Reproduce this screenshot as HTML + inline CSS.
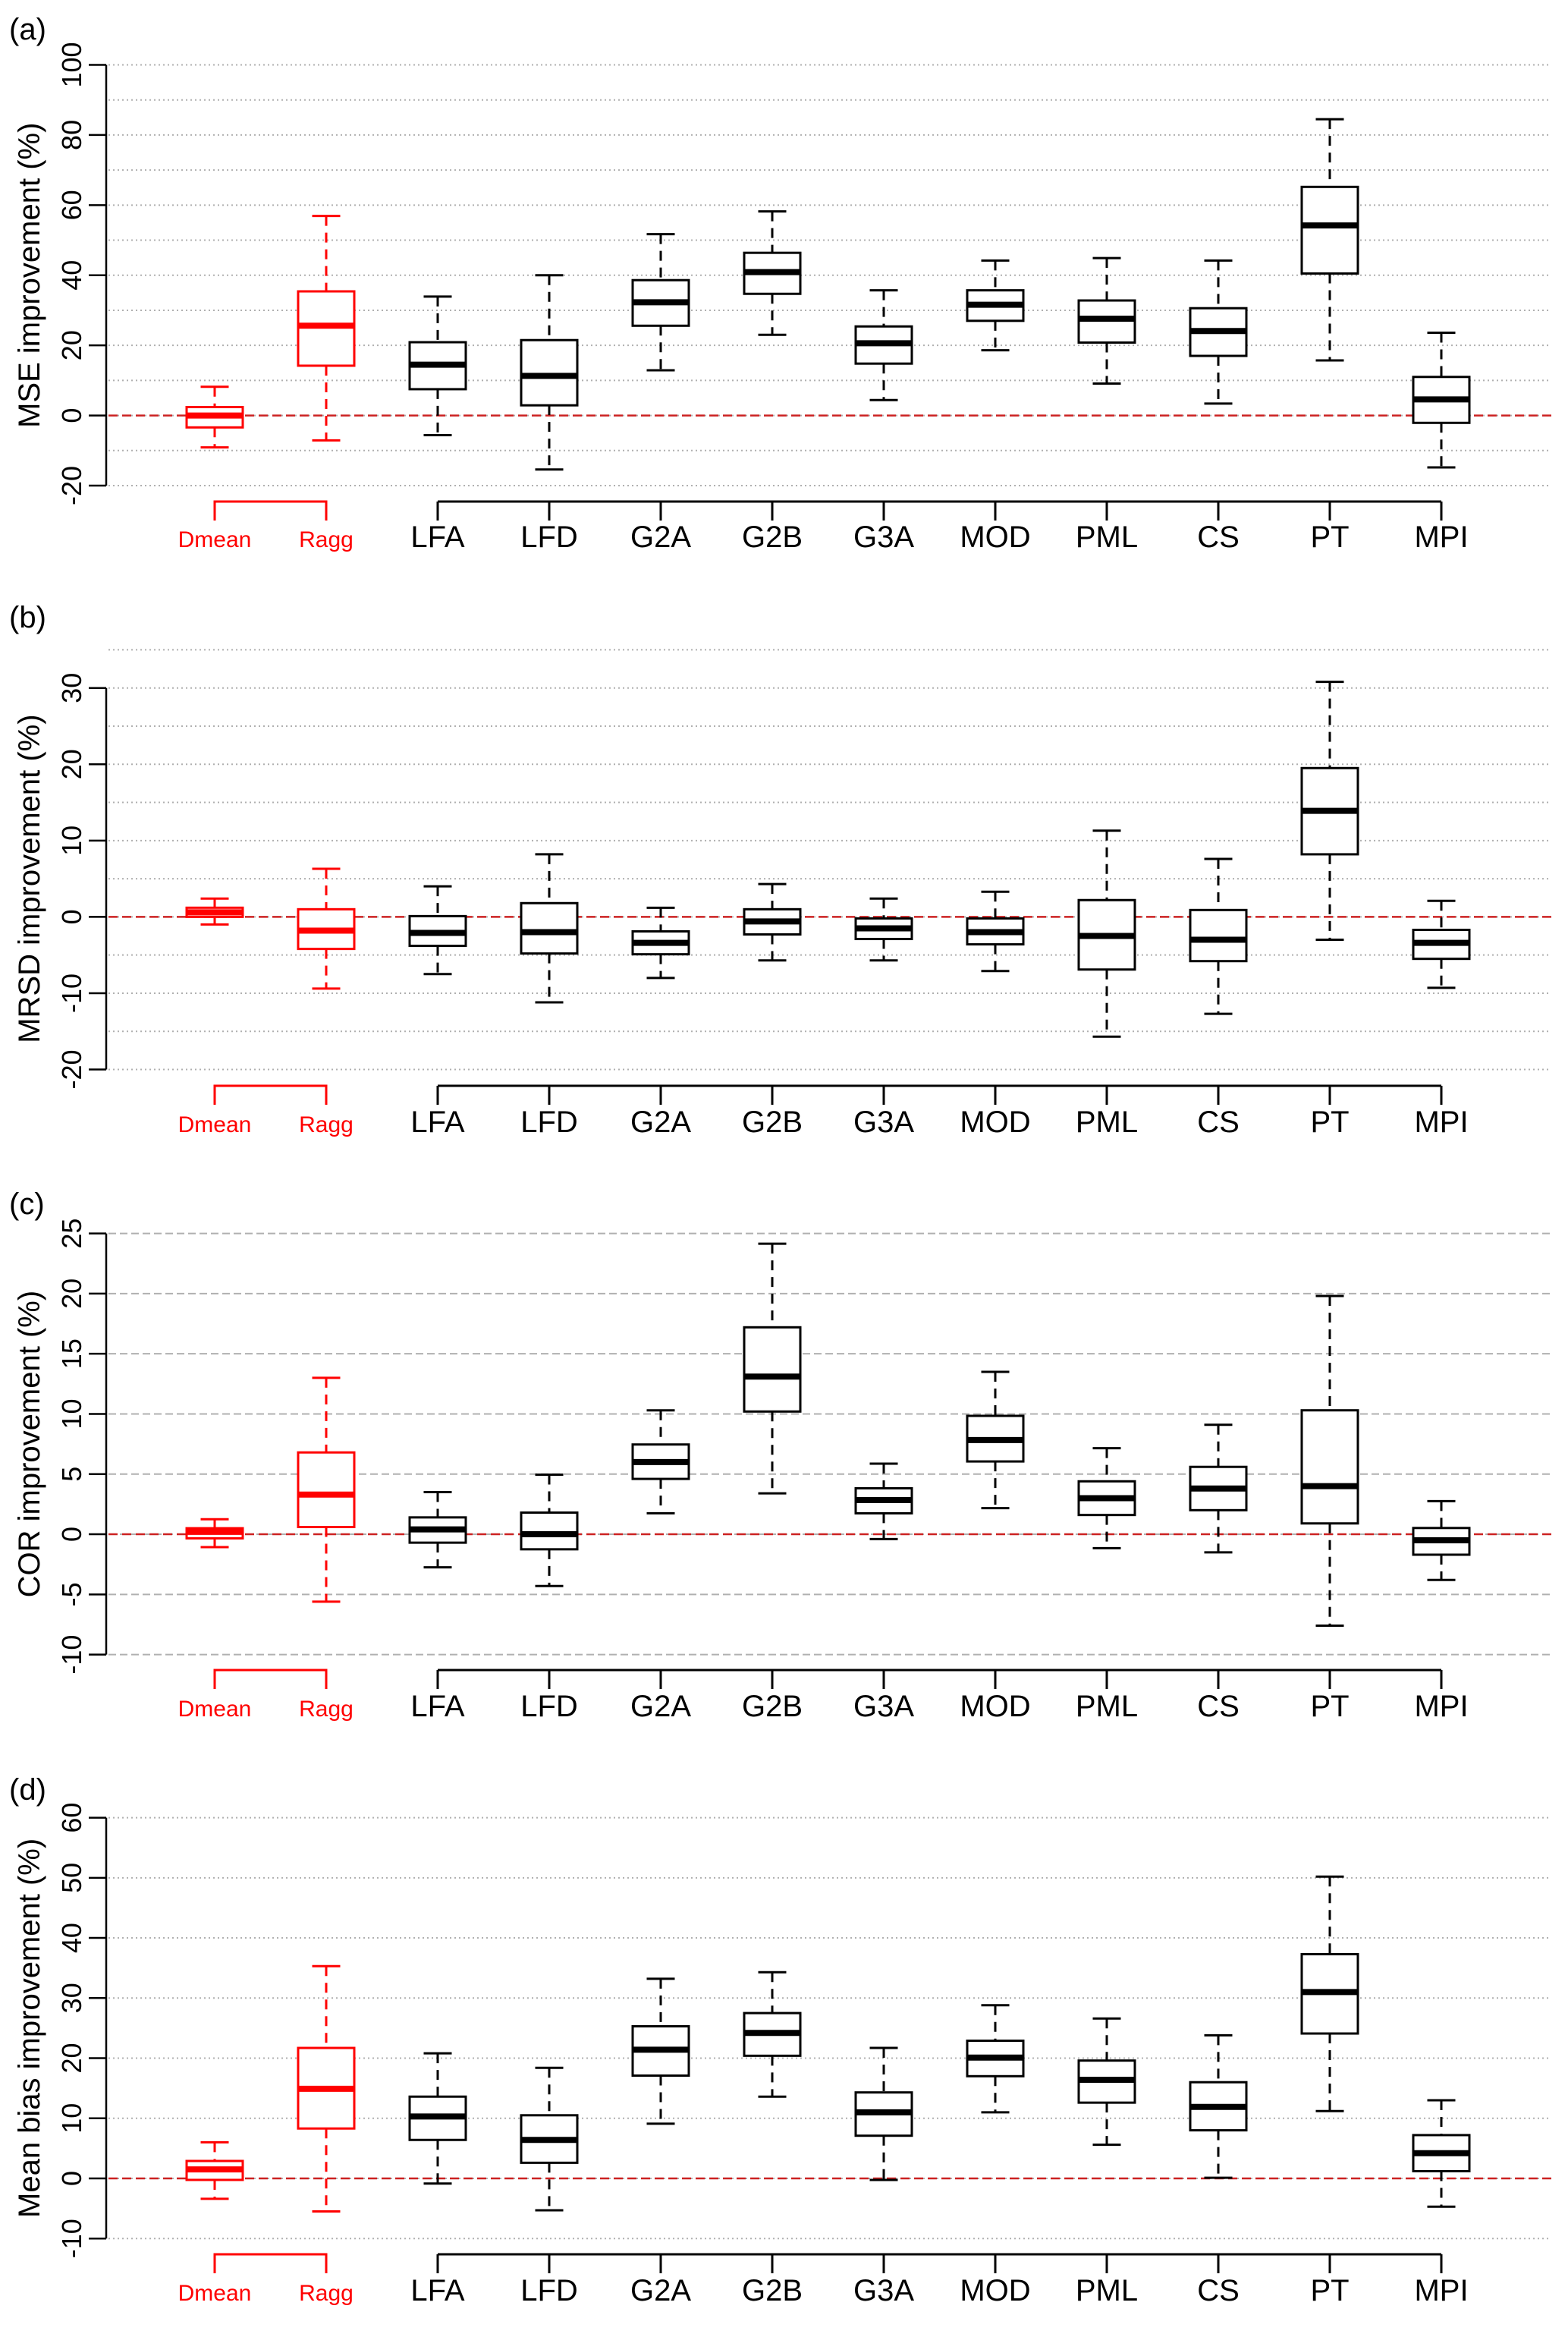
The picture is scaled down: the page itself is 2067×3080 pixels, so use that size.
<!DOCTYPE html>
<html><head><meta charset="utf-8"><style>
html,body{margin:0;padding:0;background:#fff;}
svg{display:block;font-family:"Liberation Sans",Arial,sans-serif;}
</style></head><body>
<svg id="fig" width="2067" height="3080" viewBox="0 0 2067 3080" xmlns="http://www.w3.org/2000/svg"></svg>
<script>
const categories = ["Dmean","Ragg","LFA","LFD","G2A","G2B","G3A","MOD","PML","CS","PT","MPI"];
// Panel (a) MSE
const mseMin = [-9.1,-7.1,-5.6,-15.4,12.9,23,4.4,18.6,9.1,3.4,15.7,-14.8];
const mseQ1  = [-3.4,14.2,7.5,2.9,25.6,34.7,14.8,27,20.8,17,40.5,-2.1];
const mseMed = [0,25.6,14.5,11.3,32.3,40.9,20.6,31.6,27.6,24.1,54.2,4.6];
const mseQ3  = [2.4,35.4,20.9,21.5,38.6,46.4,25.4,35.7,32.8,30.6,65.2,11];
const mseMax = [8.2,56.9,33.9,40,51.7,58.2,35.7,44.2,44.9,44.2,84.5,23.6];
// Panel (b) MRSD
const mrsdMin = [-1.0,-9.4,-7.5,-11.2,-8.0,-5.7,-5.7,-7.1,-15.7,-12.7,-3.0,-9.3];
const mrsdQ1  = [0,-4.2,-3.8,-4.8,-4.9,-2.3,-2.9,-3.6,-6.9,-5.8,8.2,-5.5];
const mrsdMed = [0.6,-1.8,-2.1,-2.0,-3.4,-0.6,-1.5,-2.0,-2.5,-3.0,13.9,-3.4];
const mrsdQ3  = [1.2,1.0,0.1,1.8,-1.9,1.0,-0.2,-0.2,2.2,0.9,19.5,-1.7];
const mrsdMax = [2.4,6.3,4.0,8.2,1.2,4.3,2.4,3.3,11.3,7.6,30.8,2.1];
// Panel (c) COR
const corMin = [-1.07,-5.6,-2.75,-4.3,1.74,3.4,-0.4,2.17,-1.16,-1.5,-7.6,-3.8];
const corQ1  = [-0.34,0.6,-0.7,-1.25,4.6,10.2,1.74,6.05,1.6,2.0,0.9,-1.7];
const corMed = [0.2,3.3,0.4,0,6.0,13.1,2.84,7.83,3.0,3.8,4.0,-0.5];
const corQ3  = [0.5,6.8,1.4,1.8,7.46,17.2,3.82,9.84,4.4,5.6,10.3,0.52];
const corMax = [1.25,13.0,3.5,4.95,10.3,24.15,5.87,13.5,7.15,9.1,19.8,2.75];
// Panel (d) Mean bias
const biasMin = [-3.4,-5.5,-0.86,-5.3,9.1,13.6,-0.25,11.0,5.6,0.1,11.2,-4.7];
const biasQ1  = [-0.25,8.3,6.4,2.6,17.1,20.4,7.1,17.0,12.6,8.0,24.1,1.2];
const biasMed = [1.5,14.9,10.3,6.4,21.4,24.2,11.0,20.1,16.4,11.9,31.0,4.2];
const biasQ3  = [2.9,21.7,13.6,10.5,25.3,27.5,14.3,22.9,19.6,16.0,37.3,7.2];
const biasMax = [6.0,35.3,20.8,18.4,33.2,34.3,21.7,28.8,26.6,23.8,50.2,13.0];
const mseTicks = [-20,0,20,40,60,80,100];
const mrsdTicks = [-20,-10,0,10,20,30];
const corTicks = [-10,-5,0,5,10,15,20,25];
const biasTicks = [-10,0,10,20,30,40,50,60];

const NS="http://www.w3.org/2000/svg";
const svg=document.getElementById('fig');
function el(tag,attrs,parent){const e=document.createElementNS(NS,tag);for(const k in attrs)e.setAttribute(k,attrs[k]);(parent||svg).appendChild(e);return e;}
function xPos(i){return 283+i*147.0;}

const panels=[
 {id:'a',title:'MSE improvement (%)',min:mseMin,q1:mseQ1,med:mseMed,q3:mseQ3,max:mseMax,ticks:mseTicks,v0:100,y0:85.5,v1:-20,y1:640,gridFrom:-20,gridTo:100,gridStep:10,dashed:false,brY:661,labY:721,pLab:52},
 {id:'b',title:'MRSD improvement (%)',min:mrsdMin,q1:mrsdQ1,med:mrsdMed,q3:mrsdQ3,max:mrsdMax,ticks:mrsdTicks,v0:30,y0:906.7,v1:-20,y1:1409.5,gridFrom:-20,gridTo:35,gridStep:5,dashed:false,brY:1431,labY:1492,pLab:827},
 {id:'c',title:'COR improvement (%)',min:corMin,q1:corQ1,med:corMed,q3:corQ3,max:corMax,ticks:corTicks,v0:25,y0:1625.6,v1:-10,y1:2180.6,gridFrom:-10,gridTo:25,gridStep:5,dashed:true,brY:2201,labY:2262,pLab:1600},
 {id:'d',title:'Mean bias improvement (%)',min:biasMin,q1:biasQ1,med:biasMed,q3:biasQ3,max:biasMax,ticks:biasTicks,v0:60,y0:2395.6,v1:-10,y1:2950.2,gridFrom:-10,gridTo:60,gridStep:10,dashed:false,brY:2971,labY:3032,pLab:2372}
];

panels.forEach(p=>{
  const g=el('g',{});
  
  
  const y=v=>p.y0+(v-p.v0)*(p.y1-p.y0)/(p.v1-p.v0);
  // grid
  for(let v=p.gridFrom;v<=p.gridTo+1e-9;v+=p.gridStep){
    const l=el('line',{x1:143,x2:2045,y1:y(v),y2:y(v),stroke:'#b0b0b0','stroke-width':2,'stroke-dasharray':p.dashed?'10,5':'2,4'},g);
    
    
  }
  // zero line
  const z=el('line',{x1:143,x2:2045,y1:y(0),y2:y(0),stroke:'#cc2222','stroke-width':2.5,'stroke-dasharray':'12,6'},g);
  
  
  // y axis
  const tmin=p.ticks[0],tmax=p.ticks[p.ticks.length-1];
  const ax=el('line',{x1:140,x2:140,y1:y(tmin),y2:y(tmax),stroke:'#000','stroke-width':2.5},g);
  
  
  p.ticks.forEach(t=>{
    const tk=el('line',{x1:117,x2:140,y1:y(t),y2:y(t),stroke:'#000','stroke-width':2.5},g);
    
    
    const tl=el('text',{x:107,y:y(t),'font-size':36,'text-anchor':'middle',transform:'rotate(-90 107 '+y(t)+')'},g);
    tl.textContent=String(t);
    
    
  });
  const cy=(y(tmin)+y(tmax))/2;
  const yt=el('text',{x:52,y:cy,'font-size':40,'text-anchor':'middle',transform:'rotate(-90 52 '+cy+')'},g);
  yt.textContent=p.title;
  
  
  const pl=el('text',{x:12,y:p.pLab,'font-size':40},g);
  pl.textContent='('+p.id+')';
  
  
  // brackets
  const rb=el('path',{d:`M${xPos(0)} ${p.brY+25} V${p.brY} H${xPos(1)} V${p.brY+25}`,fill:'none',stroke:'#ff0000','stroke-width':3},g);
  
  
  let d=`M${xPos(2)} ${p.brY} H${xPos(11)}`;
  for(let i=2;i<12;i++) d+=` M${xPos(i)} ${p.brY} V${p.brY+25}`;
  const bb=el('path',{d:d,fill:'none',stroke:'#000','stroke-width':3},g);
  
  
  // boxes
  categories.forEach((c,i)=>{
    const col=i<2?'#ff0000':'#000';
    const x=xPos(i);
    const bg=el('g',{},g);
    
    
    el('line',{x1:x,x2:x,y1:y(p.max[i]),y2:y(p.q3[i]),stroke:col,'stroke-width':3,'stroke-dasharray':'13,9'},bg);
    el('line',{x1:x,x2:x,y1:y(p.q1[i]),y2:y(p.min[i]),stroke:col,'stroke-width':3,'stroke-dasharray':'13,9'},bg);
    el('line',{x1:x-18.5,x2:x+18.5,y1:y(p.max[i]),y2:y(p.max[i]),stroke:col,'stroke-width':3},bg);
    el('line',{x1:x-18.5,x2:x+18.5,y1:y(p.min[i]),y2:y(p.min[i]),stroke:col,'stroke-width':3},bg);
    el('rect',{x:x-37,y:y(p.q3[i]),width:74,height:Math.max(0.5,y(p.q1[i])-y(p.q3[i])),fill:'#fff',stroke:col,'stroke-width':3},bg);
    el('line',{x1:x-37,x2:x+37,y1:y(p.med[i]),y2:y(p.med[i]),stroke:col,'stroke-width':8},bg);
    const lb=el('text',{x:x,y:p.labY,'font-size':i<2?30:40,'text-anchor':'middle',fill:col},g);
    lb.textContent=c;
    
    
  });
});
</script>
</body></html>
